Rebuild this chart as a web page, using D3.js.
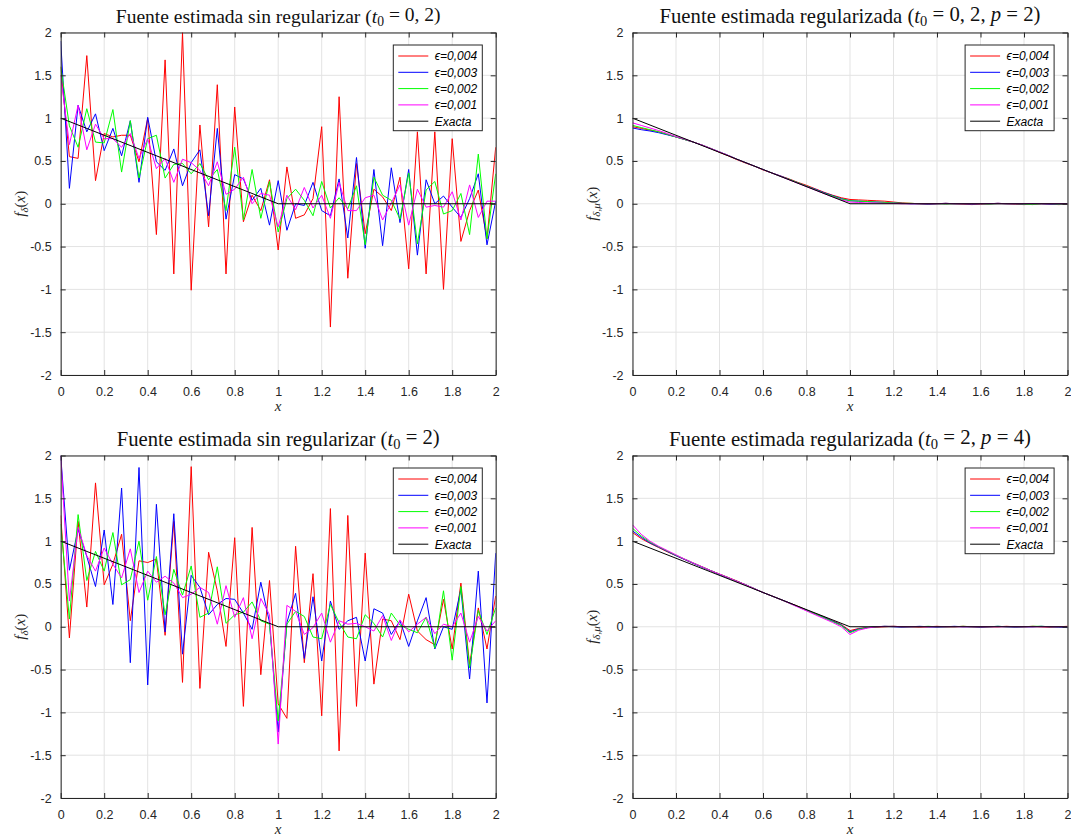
<!DOCTYPE html>
<html><head><meta charset="utf-8">
<script src="https://cdn.jsdelivr.net/npm/d3@7/dist/d3.min.js"></script>
<style>
body{margin:0;background:#fff;}
svg{display:block;}
</style></head>
<body>
<svg id="chart" width="1071" height="837"></svg>
<script>
// ---------- DATA ----------
const xs = [0,0.04,0.08,0.12,0.16,0.2,0.24,0.28,0.32,0.36,0.4,0.44,0.48,0.52,0.56,0.6,0.64,0.68,0.72,0.76,0.8,0.84,0.88,0.92,0.96,1,1.04,1.08,1.12,1.16,1.2,1.24,1.28,1.32,1.36,1.4,1.44,1.48,1.52,1.56,1.6,1.64,1.68,1.72,1.76,1.8,1.84,1.88,1.92,1.96,2];
const exactX = [0,1,2];
const exactY = [1,0,0];
const xTicks = [0,0.2,0.4,0.6,0.8,1,1.2,1.4,1.6,1.8,2];
const yTicks = [-2,-1.5,-1,-0.5,0,0.5,1,1.5,2];
const legendLabels = ["ϵ=0,004","ϵ=0,003","ϵ=0,002","ϵ=0,001","Exacta"];

// Panel 1: sin regularizar t0=0,2
const p1Red = [1.6,0.55,0.53,1.73,0.27,0.82,0.78,0.8,0.8,0.49,1.0,-0.36,1.68,-0.82,2.0,-1.01,0.92,-0.27,1.39,-0.82,1.13,-0.21,0.1,-0.08,0.28,-0.54,0.43,-0.17,-0.13,0.06,0.9,-1.44,1.25,-0.87,0.47,-0.35,0.17,0.08,-0.08,0.31,-0.76,0.84,-0.82,0.84,-1.0,0.76,-0.44,-0.08,0.16,-0.41,0.66];
const p1Blue = [1.9,0.18,1.15,0.84,1.05,0.62,0.88,0.56,0.97,0.25,1.01,0.49,0.39,0.64,0.21,0.48,0.63,-0.14,0.88,-0.18,0.34,0.29,0.04,0.18,-0.25,0.27,-0.31,0.0,-0.02,0.25,-0.08,-0.14,0.29,-0.4,0.54,-0.52,0.4,-0.49,0.42,-0.22,0.4,-0.6,0.28,0.0,0.09,-0.04,-0.16,0.06,0.35,-0.48,0.03];
const p1Green = [1.6,0.91,0.66,1.11,0.72,0.71,1.1,0.37,0.97,0.3,0.76,0.8,0.3,0.46,0.47,0.35,0.47,0.28,0.4,-0.08,0.66,-0.19,0.4,-0.17,0.26,-0.33,0.06,0.17,0.04,-0.14,0.26,-0.05,0.07,-0.06,0.21,-0.48,0.31,0.1,0.04,-0.18,0.36,-0.47,0.16,0.26,-0.12,-0.08,0.12,-0.36,0.58,-0.41,0.35];
const p1Magenta = [1.5,0.69,1.15,0.63,0.93,0.76,0.76,0.66,0.82,0.53,0.76,0.41,0.53,0.25,0.52,0.48,0.39,0.21,0.49,0.11,0.17,0.31,0.0,0.12,0.1,-0.27,0.1,-0.07,0.19,-0.05,0.1,-0.17,0.25,-0.08,-0.08,0.07,0.1,-0.19,0.01,0.22,-0.25,0.17,-0.04,-0.02,-0.04,0.14,-0.19,0.22,-0.16,0.03,0.03];

// Panel 2: regularizada t0=0,2 p=2
const p2Red = [0.90,0.88,0.86,0.84,0.81,0.78,0.75,0.72,0.685,0.645,0.60,0.56,0.515,0.475,0.44,0.395,0.36,0.325,0.29,0.25,0.215,0.175,0.135,0.10,0.07,0.05,0.045,0.04,0.035,0.03,0.02,0.01,0.005,0.0,-0.005,0.0,0.005,0.0,-0.005,-0.01,-0.005,0.0,0.005,0.0,-0.005,-0.01,-0.005,0.0,-0.005,-0.01,-0.005];
const p2Blue = [0.885,0.865,0.85,0.83,0.805,0.78,0.75,0.72,0.685,0.645,0.605,0.565,0.52,0.48,0.44,0.40,0.36,0.325,0.285,0.245,0.205,0.17,0.13,0.095,0.06,0.035,0.03,0.025,0.02,0.015,0.01,0.005,0.0,0.0,-0.005,0.0,0.005,0.0,0.0,-0.005,0.0,0.0,0.005,0.0,0.0,-0.005,0.0,0.0,-0.005,-0.005,0.0];
const p2Green = [0.915,0.89,0.865,0.84,0.81,0.78,0.75,0.72,0.685,0.645,0.605,0.565,0.52,0.48,0.44,0.40,0.36,0.32,0.285,0.245,0.205,0.165,0.125,0.09,0.055,0.035,0.03,0.025,0.02,0.015,0.01,0.005,0.005,0.0,0.0,0.0,-0.005,0.0,0.0,0.0,0.0,-0.005,0.0,0.0,0.0,-0.005,-0.01,0.0,0.0,-0.005,0.0];
const p2Magenta = [0.945,0.915,0.885,0.855,0.82,0.785,0.755,0.72,0.685,0.645,0.605,0.565,0.52,0.48,0.44,0.40,0.36,0.32,0.28,0.24,0.20,0.16,0.12,0.08,0.045,0.02,0.015,0.01,0.01,0.005,0.005,0.0,0.0,0.0,0.0,0.0,0.0,0.0,0.0,0.0,0.0,0.0,0.0,0.0,0.0,0.0,0.0,0.0,0.0,0.0,0.0];

// Panel 3: sin regularizar t0=2
const p3Red = [1.3,-0.13,1.23,0.23,1.68,0.49,0.73,1.08,0.07,0.77,0.75,0.79,-0.1,1.23,-0.65,1.87,-0.72,0.87,0.42,-0.23,1.04,-0.93,1.16,-0.56,0.54,-0.9,-1.07,0.94,-0.42,0.62,-1.04,1.38,-1.45,1.3,-0.93,0.86,-0.67,0.09,0.07,-0.15,0.38,-0.05,-0.15,-0.21,0.32,-0.26,0.51,-0.44,0.22,-0.26,0.36];
const p3Blue = [2.0,0.66,1.14,0.82,0.47,1.13,0.26,1.62,-0.42,1.86,-0.68,1.43,-0.06,1.32,-0.32,0.6,0.46,0.14,0.26,0.33,0.32,0.16,-0.03,0.52,0.05,-1.23,0.05,0.39,-0.37,0.35,-0.4,0.3,-0.03,0.07,0.11,-0.4,0.21,0.16,-0.09,0.07,-0.23,0.07,0.34,-0.26,0.0,-0.03,0.44,-0.61,0.65,-0.89,0.86];
const p3Green = [1.2,0.09,1.31,0.54,0.88,0.65,1.1,0.49,0.55,1.0,0.31,0.82,0.14,0.67,0.37,0.71,0.11,0.16,0.7,0.04,0.14,0.17,0.29,0.07,0.03,-1.1,0.03,0.18,0.12,-0.12,-0.14,0.26,0.05,-0.12,-0.14,0.14,0.04,-0.12,0.16,0.02,-0.03,-0.07,0.11,-0.25,0.42,-0.39,0.47,-0.48,0.19,-0.09,0.22];
const p3Magenta = [2.0,0.3,1.16,0.83,0.65,0.92,0.73,0.57,0.91,0.4,0.65,0.52,0.59,0.51,0.34,0.38,0.46,0.4,0.03,0.48,0.11,0.34,-0.14,0.33,0.14,-1.37,0.25,0.18,-0.09,-0.01,0.16,-0.18,0.07,0.03,0.04,0.0,-0.05,0.13,-0.16,0.08,-0.06,0.03,0.11,-0.08,0.03,0.0,0.16,-0.18,0.12,-0.05,0.07];

// Panel 4: regularizada t0=2 p=4
const p4Red = [1.10,1.03,0.975,0.925,0.875,0.83,0.785,0.74,0.70,0.655,0.615,0.575,0.535,0.49,0.445,0.40,0.36,0.32,0.28,0.24,0.195,0.155,0.115,0.07,0.025,-0.045,-0.02,-0.01,-0.005,0.0,0.005,0.0,0.0,-0.005,0.0,0.005,0.0,0.0,0.005,0.0,-0.005,0.0,0.0,0.005,0.0,0.0,0.005,0.0,-0.005,0.0,0.005];
const p4Blue = [1.12,1.045,0.98,0.93,0.88,0.83,0.785,0.74,0.695,0.655,0.61,0.57,0.53,0.49,0.445,0.40,0.36,0.32,0.28,0.235,0.195,0.15,0.11,0.065,0.02,-0.06,-0.025,-0.01,0.0,0.005,0.0,-0.005,0.0,0.005,0.0,-0.005,0.0,0.005,0.0,0.0,-0.005,0.0,0.005,0.0,-0.005,0.0,0.0,0.005,0.0,-0.005,-0.01];
const p4Green = [1.15,1.06,0.99,0.935,0.885,0.835,0.79,0.745,0.70,0.655,0.615,0.575,0.53,0.49,0.445,0.40,0.36,0.32,0.275,0.235,0.19,0.15,0.105,0.06,0.015,-0.07,-0.03,-0.01,0.0,0.005,0.005,0.0,0.0,0.0,0.005,0.0,0.0,0.0,0.005,0.0,0.0,0.0,0.005,0.0,0.0,0.0,0.005,0.005,0.0,0.0,0.0];
const p4Magenta = [1.19,1.08,1.0,0.94,0.89,0.84,0.79,0.745,0.70,0.655,0.615,0.575,0.53,0.49,0.445,0.40,0.36,0.32,0.275,0.23,0.185,0.14,0.095,0.05,0.0,-0.09,-0.04,-0.015,0.0,0.005,0.005,0.0,0.0,0.0,0.0,0.0,0.0,0.0,0.0,0.0,0.0,0.0,0.0,0.0,0.0,0.0,0.0,0.0,0.0,0.0,0.0];

// ---------- LAYOUT ----------
const colors = ["#ff0000","#0000ff","#00ff00","#ff00ff","#000000"];
const panels = [
  {left:60.7, top:32.5, tw:325, title:[["Fuente estimada sin regularizar (",""],["t","i"],["0","s"],[" = 0, 2)","r"]], sub:"δ", series:[p1Red,p1Blue,p1Green,p1Magenta]},
  {left:632.5, top:32.5, tw:381, title:[["Fuente estimada regularizada (",""],["t","i"],["0","s"],[" = 0, 2, ","r"],["p","i"],[" = 2)",""]], sub:"δ,μ", series:[p2Red,p2Blue,p2Green,p2Magenta]},
  {left:60.7, top:455.5, tw:323, title:[["Fuente estimada sin regularizar (",""],["t","i"],["0","s"],[" = 2)","r"]], sub:"δ", series:[p3Red,p3Blue,p3Green,p3Magenta]},
  {left:632.5, top:455.5, tw:362, title:[["Fuente estimada regularizada (",""],["t","i"],["0","s"],[" = 2, ","r"],["p","i"],[" = 4)",""]], sub:"δ,μ", series:[p4Red,p4Blue,p4Green,p4Magenta]}
];
const W = 435, H = 342.5;
const axisColor = "#262626";
const sans = "'Liberation Sans', Arial, Helvetica, sans-serif";
const serif = "'Liberation Serif', 'Times New Roman', serif";

const svg = d3.select("#chart");
const defs = svg.append("defs");

panels.forEach((p, pi) => {
  const g = svg.append("g").attr("transform", `translate(${p.left},${p.top})`);
  const x = d3.scaleLinear().domain([0,2]).range([0,W]);
  const y = d3.scaleLinear().domain([-2,2]).range([H,0]);

  // grid
  g.append("g").selectAll("line").data(xTicks).join("line")
    .attr("x1", d=>x(d)).attr("x2", d=>x(d)).attr("y1",0).attr("y2",H)
    .attr("stroke","#e3e3e3").attr("stroke-width",1);
  g.append("g").selectAll("line").data(yTicks).join("line")
    .attr("y1", d=>y(d)).attr("y2", d=>y(d)).attr("x1",0).attr("x2",W)
    .attr("stroke","#e3e3e3").attr("stroke-width",1);

  // clip
  const cid = "clip"+pi;
  defs.append("clipPath").attr("id",cid).append("rect").attr("x",0).attr("y",0).attr("width",W).attr("height",H);
  const lines = g.append("g").attr("clip-path",`url(#${cid})`);
  const line = d3.line().x((d,i)=>x(xs[i])).y(d=>y(d));
  p.series.forEach((s, si) => {
    lines.append("path").datum(s).attr("d", line).attr("fill","none")
      .attr("stroke", colors[si]).attr("stroke-width",1).attr("stroke-linejoin","round");
  });
  const eline = d3.line().x((d,i)=>x(exactX[i])).y(d=>y(d));
  lines.append("path").datum(exactY).attr("d", eline).attr("fill","none").attr("stroke","#000").attr("stroke-width",1);

  // axes (MATLAB style, ticks inside, box)
  const ax = g.append("g");
  const xb = ax.append("g").attr("transform",`translate(0,${H})`).call(d3.axisBottom(x).tickValues(xTicks).tickSizeInner(-5).tickSizeOuter(0).tickPadding(12).tickFormat(d=>String(d)));
  const xt = ax.append("g").call(d3.axisTop(x).tickValues(xTicks).tickSizeInner(-5).tickSizeOuter(0).tickFormat(""));
  const yl = ax.append("g").call(d3.axisLeft(y).tickValues(yTicks).tickSizeInner(-5).tickSizeOuter(0).tickPadding(9).tickFormat(d=>String(d)));
  const yr = ax.append("g").attr("transform",`translate(${W},0)`).call(d3.axisRight(y).tickValues(yTicks).tickSizeInner(-5).tickSizeOuter(0).tickFormat(""));
  [xb,xt,yl,yr].forEach(a=>{
    a.select(".domain").attr("stroke",axisColor).attr("stroke-width",1);
    a.selectAll(".tick line").attr("stroke",axisColor);
    a.selectAll("text").attr("fill",axisColor).style("font-family",sans).style("font-size","12.5px");
  });

  // title
  const t = g.append("text").attr("x", W/2).attr("y", -10).attr("text-anchor","middle")
    .style("font-family", serif).style("font-size","16px").attr("fill","#111");
  p.title.forEach(([s,k])=>{
    const ts = t.append("tspan").text(s);
    if (k==="i") ts.style("font-style","italic");
    if (k==="s") ts.attr("dy","0.22em").style("font-size","0.7em");
    if (k==="r") ts.attr("dy","-0.22em");
  });
  const tl = t.node().getComputedTextLength();
  t.style("font-size", (16*p.tw/tl).toFixed(2)+"px");

  // x label
  g.append("text").attr("x", W/2).attr("y", H+36).attr("text-anchor","middle")
    .style("font-family", serif).style("font-style","italic").style("font-size","15px").attr("fill","#262626").text("x");

  // y label
  const ylab = g.append("text").attr("transform",`translate(-36,${H/2}) rotate(-90)`).attr("text-anchor","middle")
    .style("font-family", serif).style("font-size","15px").attr("fill","#262626");
  ylab.append("tspan").style("font-style","italic").text("f");
  ylab.append("tspan").attr("dy",3.5).style("font-style","italic").style("font-size","11px").text(p.sub);
  ylab.append("tspan").attr("dy",-3.5).text("(");
  ylab.append("tspan").style("font-style","italic").text("x");
  ylab.append("tspan").text(")");

  // legend
  const lg = g.append("g").attr("transform",`translate(${332.6},${12.5})`);
  lg.append("rect").attr("x",0).attr("y",0).attr("width",89).attr("height",85.7)
    .attr("fill","#fff").attr("stroke",axisColor).attr("stroke-width",1);
  legendLabels.forEach((lab,i)=>{
    const yy = 11 + i*16.3;
    lg.append("line").attr("x1",5).attr("x2",35).attr("y1",yy).attr("y2",yy).attr("stroke",colors[i]).attr("stroke-width",1);
    lg.append("text").attr("x",41.5).attr("y",yy+4.3).style("font-family",sans).style("font-style","italic")
      .style("font-size","12px").attr("fill","#000").text(lab);
  });
});
</script>
</body></html>
